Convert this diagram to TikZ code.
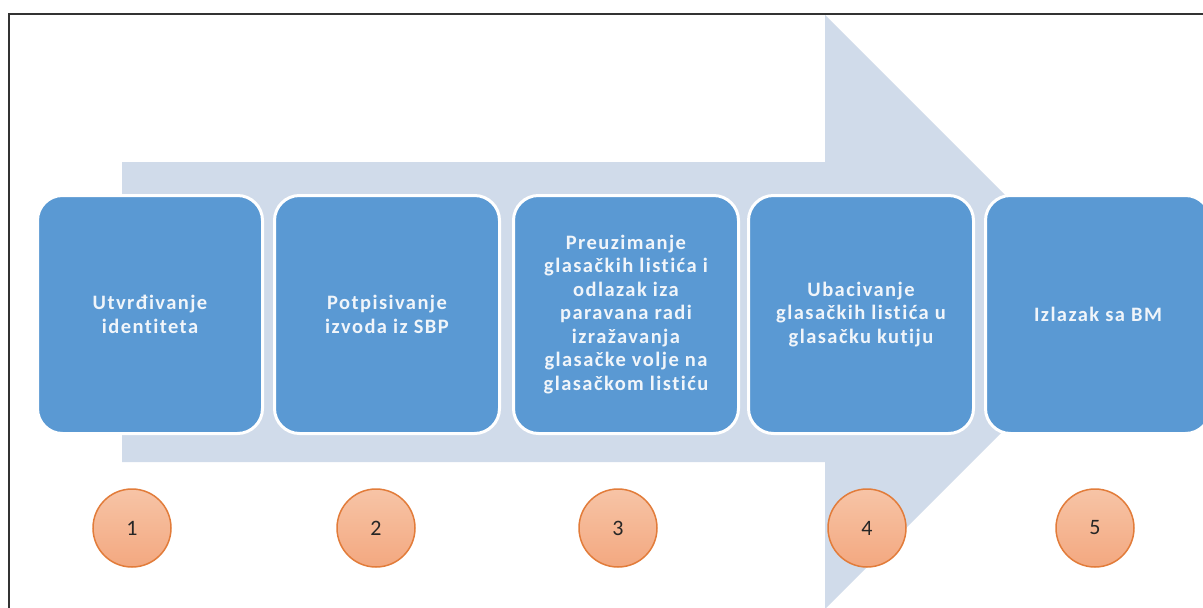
\documentclass[tikz,border=0pt]{standalone}
\usepackage{fontspec}
\setmainfont{Carlito}
\newfontfamily\stepfont{Carlito}[LetterSpace=7,Ligatures=CommonOff]
\usepackage{tikz}
\usepackage{xcolor}
\definecolor{arrowfill}{RGB}{208,219,234}
\definecolor{boxfill}{RGB}{90,153,211}
\definecolor{boxtext}{RGB}{240,245,250}
\definecolor{numtop}{RGB}{247,196,166}
\definecolor{numbottom}{RGB}{243,168,128}
\definecolor{numline}{RGB}{226,124,58}

\begin{document}
\begin{tikzpicture}[x=1pt,y=-1pt,
  stepbox/.style={rectangle,rounded corners=25pt,fill=boxfill,draw=white,line width=3pt,minimum width=225pt,minimum height=238pt,align=center,text=boxtext,font=\stepfont\bfseries\fontsize{20.5}{23.5}\selectfont},
  numcircle/.style={circle,minimum size=78pt,inner sep=0pt,top color=numtop,bottom color=numbottom,draw=numline,line width=1.5pt,text=black!85,font=\fontsize{22}{24}\selectfont}]
\clip (0,0) rectangle (1203,608);
\fill[white] (0,0) rectangle (1203,608);
\draw[black!80,line width=2.5pt] (9,14) rectangle (1220,630);
% big arrow in the back
\fill[arrowfill] (122,162) -- (825,162) -- (825,15) -- (1122,312) -- (825,609) -- (825,462) -- (122,462) -- cycle;
\node[stepbox] (step1) at (150,314.5) {Utvrđivanje\\identiteta};
\node[stepbox] (step2) at (387,314.5) {Potpisivanje\\izvoda iz SBP};
\node[stepbox] (step3) at (626,314.5) {Preuzimanje\\glasačkih listića i\\odlazak iza\\paravana radi\\izražavanja\\glasačke volje na\\glasačkom listiću};
\node[stepbox] (step4) at (861,314.5) {Ubacivanje\\glasačkih listića u\\glasačku kutiju};
\node[stepbox] (step5) at (1098,314.5) {Izlazak sa BM};
\node[numcircle] (num1) at (132,528) {1};
\node[numcircle] (num2) at (376,528) {2};
\node[numcircle] (num3) at (618,528) {3};
\node[numcircle] (num4) at (867,528) {4};
\node[numcircle] (num5) at (1095,528) {5};
\end{tikzpicture}
\end{document}
